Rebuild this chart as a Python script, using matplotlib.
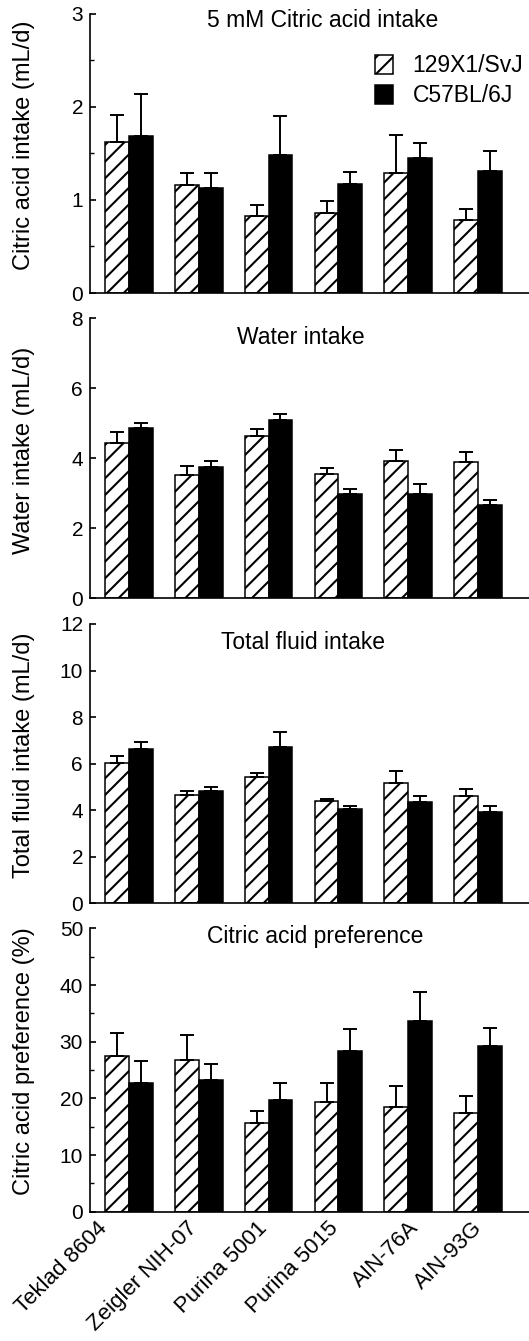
import matplotlib
matplotlib.use('Agg')
import matplotlib.pyplot as plt
import matplotlib.transforms as mtransforms
import numpy as np
from matplotlib.ticker import MultipleLocator

plt.rcParams['font.family'] = ['Liberation Sans', 'DejaVu Sans']
plt.rcParams['hatch.linewidth'] = 1.5

diets = ["Teklad 8604", "Zeigler NIH-07", "Purina 5001", "Purina 5015", "AIN-76A", "AIN-93G"]
strains = ["129X1/SvJ", "C57BL/6J"]

citric_129 = [1.62, 1.16, 0.83, 0.86, 1.29, 0.78]
citric_129_err = [0.29, 0.13, 0.12, 0.13, 0.41, 0.12]
citric_b6 = [1.69, 1.13, 1.48, 1.17, 1.45, 1.31]
citric_b6_err = [0.45, 0.16, 0.42, 0.13, 0.16, 0.22]

water_129 = [4.43, 3.52, 4.64, 3.54, 3.92, 3.89]
water_129_err = [0.33, 0.27, 0.19, 0.19, 0.32, 0.28]
water_b6 = [4.86, 3.76, 5.11, 2.97, 2.99, 2.67]
water_b6_err = [0.14, 0.16, 0.16, 0.15, 0.27, 0.13]

total_129 = [6.01, 4.65, 5.44, 4.39, 5.18, 4.61]
total_129_err = [0.33, 0.17, 0.16, 0.10, 0.50, 0.30]
total_b6 = [6.61, 4.82, 6.70, 4.06, 4.36, 3.92]
total_b6_err = [0.32, 0.18, 0.66, 0.13, 0.25, 0.26]

pref_129 = [27.5, 26.8, 15.6, 19.4, 18.5, 17.5]
pref_129_err = [4.0, 4.3, 2.2, 3.3, 3.6, 3.0]
pref_b6 = [22.8, 23.2, 19.7, 28.4, 33.7, 29.3]
pref_b6_err = [3.8, 2.9, 3.1, 3.8, 5.1, 3.2]

# horizontal nudges (pixels) of the rotated category labels, layout only
label_dx_px = [-32, -12, -12, -11, 0, -6]

panels = [
    dict(title="5 mM Citric acid intake", ylabel="Citric acid intake (mL/d)",
         a=citric_129, ae=citric_129_err, b=citric_b6, be=citric_b6_err,
         ymax=3, major=1, minor=0.5, box=[0.1701, 0.7815, 0.8299, 0.2081],
         tpos=(0.531, 0.975)),
    dict(title="Water intake", ylabel="Water intake (mL/d)",
         a=water_129, ae=water_129_err, b=water_b6, be=water_b6_err,
         ymax=8, major=2, minor=None, box=[0.1701, 0.5538, 0.8299, 0.2088],
         tpos=(0.48, 0.93)),
    dict(title="Total fluid intake", ylabel="Total fluid intake (mL/d)",
         a=total_129, ae=total_129_err, b=total_b6, be=total_b6_err,
         ymax=12, major=2, minor=None, box=[0.1701, 0.3264, 0.8299, 0.2083],
         tpos=(0.486, 0.932)),
    dict(title="Citric acid preference", ylabel="Citric acid preference (%)",
         a=pref_129, ae=pref_129_err, b=pref_b6, be=pref_b6_err,
         ymax=50, major=10, minor=5, box=[0.1701, 0.0964, 0.8299, 0.2113],
         tpos=(0.512, 0.97)),
]

fig = plt.figure(figsize=(5.29, 13.41), dpi=100)
x = np.arange(len(diets))
w = 0.34

for i, p in enumerate(panels):
    ax = fig.add_axes(p['box'])
    ax.bar(x - w/2, p['a'], w, color='white', edgecolor='black', hatch='//',
           linewidth=1.1, label=strains[0], zorder=2)
    ax.bar(x + w/2, p['b'], w, color='black', edgecolor='black',
           linewidth=1.1, label=strains[1], zorder=2)
    za = np.zeros(len(x))
    ax.errorbar(x - w/2, p['a'], yerr=[za, p['ae']], fmt='none', ecolor='black',
                elinewidth=1.4, capsize=5, capthick=1.4, zorder=3)
    ax.errorbar(x + w/2, p['b'], yerr=[za, p['be']], fmt='none', ecolor='black',
                elinewidth=1.4, capsize=5, capthick=1.4, zorder=3)
    ax.set_xlim(-0.559, 5.73)
    ax.set_ylim(0, p['ymax'])
    ax.yaxis.set_major_locator(MultipleLocator(p['major']))
    if p['minor']:
        ax.yaxis.set_minor_locator(MultipleLocator(p['minor']))
    for s in ['top', 'right']:
        ax.spines[s].set_visible(False)
    for s in ['left', 'bottom']:
        ax.spines[s].set_linewidth(1.2)
    ax.tick_params(axis='y', which='major', direction='in', length=4.5, width=1.2,
                   labelsize=15, pad=5)
    ax.tick_params(axis='y', which='minor', direction='in', length=3, width=1.0)
    ax.set_ylabel(p['ylabel'], fontsize=17)
    ax.yaxis.set_label_coords(-0.125, 0.53)
    ax.text(p['tpos'][0], p['tpos'][1], p['title'], transform=ax.transAxes,
            ha='center', va='center', fontsize=16.5)
    ax.set_xticks(x)
    if i == 3:
        labels = ax.set_xticklabels(diets, rotation=45, ha='right', va='top',
                                    rotation_mode='anchor', fontsize=16)
        ax.tick_params(axis='x', length=0, pad=4)
        for lab, dx in zip(labels, label_dx_px):
            off = mtransforms.ScaledTranslation(dx / 100.0, 0, fig.dpi_scale_trans)
            lab.set_transform(lab.get_transform() + off)
    else:
        ax.set_xticklabels([])
        ax.tick_params(axis='x', length=0)
    if i == 0:
        ax.legend(loc='upper left', bbox_to_anchor=(0.649, 0.855), frameon=False,
                  fontsize=16.5, handlelength=0.8, handleheight=0.9,
                  handletextpad=0.85, labelspacing=0.3, borderpad=0,
                  borderaxespad=0)

fig.savefig('out.png', dpi=100)
